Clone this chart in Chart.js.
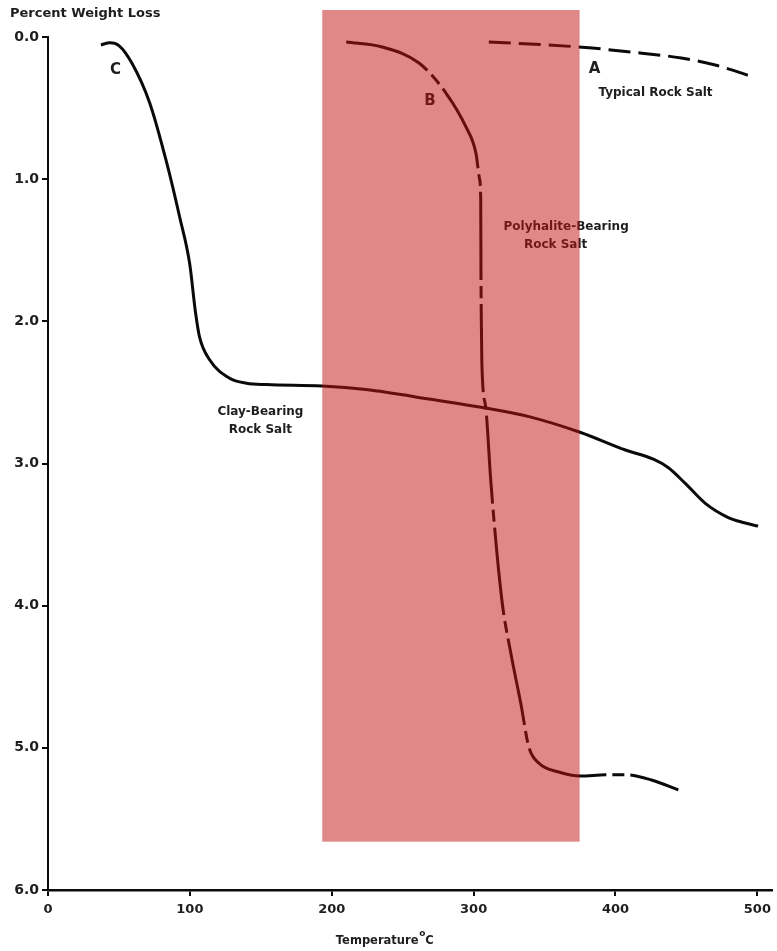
<!DOCTYPE html>
<html>
<head>
<meta charset="utf-8">
<script src="https://cdn.jsdelivr.net/npm/chart.js@4/dist/chart.umd.min.js"></script>
<style>
  html, body { margin: 0; padding: 0; background: #fff; }
  canvas { display: block; }
</style>
</head>
<body>
<canvas id="tga" width="777" height="951"></canvas>
<script>
// thermogravimetric curves: temperature (C) vs percent weight loss
const rockTemp = [310.7, 374, 411.3, 446.4, 470.3, 494.9];
const rockLoss = [0.035, 0.07, 0.106, 0.148, 0.197, 0.274];

const polyTemp = [210.2, 235.5, 261.5, 280.5, 294.6, 301.6, 304.2, 305.0, 305.2, 305.4, 305.8, 308.6, 312.2, 319.9, 326.2, 333.2, 338.9, 345.9, 360, 375.4, 393, 407, 425.3, 444.3];
const polyLoss = [0.035, 0.07, 0.183, 0.394, 0.633, 0.816, 1.0, 1.147, 1.709, 1.97, 2.293, 2.61, 3.137, 3.96, 4.333, 4.685, 4.994, 5.107, 5.17, 5.198, 5.19, 5.19, 5.226, 5.296];

const clayTemp = [37.3, 43.6, 50, 59.1, 71.7, 83.7, 92.8, 99.8, 104, 106.8, 113.9, 128, 140, 154, 193, 224, 271, 308.6, 339, 375, 407, 426.7, 437.3, 449.2, 463.3, 479.5, 490, 500.5];
const clayLoss = [0.056, 0.04, 0.06, 0.183, 0.464, 0.886, 1.266, 1.59, 1.94, 2.11, 2.27, 2.40, 2.435, 2.445, 2.455, 2.48, 2.55, 2.61, 2.67, 2.78, 2.905, 2.97, 3.03, 3.14, 3.28, 3.38, 3.415, 3.44];

const xTicks = [0, 100, 200, 300, 400, 500];
const yTicks = [0, 1, 2, 3, 4, 5, 6];

// shaded temperature band
const bandTemp = [193.3, 374.7];
const bandLoss = [-0.19, 5.66];

const ink = '#0a0a0a';
const textInk = '#1e1e1e';
const fontFam = '"DejaVu Sans", sans-serif';

const notes = [
  { text: 'C', x: 47.5, y: 0.23, size: 15 },
  { text: 'B', x: 269.3, y: 0.45, size: 15 },
  { text: 'A', x: 385.3, y: 0.225, size: 15 },
  { text: 'Typical Rock Salt', x: 428.2, y: 0.395, size: 12 },
  { text: 'Polyhalite-Bearing', x: 365.2, y: 1.335, size: 12 },
  { text: 'Rock Salt', x: 357.8, y: 1.46, size: 12 },
  { text: 'Clay-Bearing', x: 149.7, y: 2.635, size: 12 },
  { text: 'Rock Salt', x: 149.7, y: 2.76, size: 12 }
];

function pts(xs, ys) {
  return xs.map((t, i) => ({ x: t, y: ys[i] }));
}

const annotate = {
  id: 'annotate',
  afterDatasetsDraw(chart) {
    const { ctx, scales: { x, y } } = chart;
    ctx.save();
    ctx.fillStyle = textInk;
    ctx.textAlign = 'center';
    ctx.textBaseline = 'middle';
    notes.forEach(n => {
      ctx.font = 'bold ' + n.size + 'px ' + fontFam;
      ctx.fillText(n.text, x.getPixelForValue(n.x), y.getPixelForValue(n.y));
    });

    // axis titles
    ctx.font = 'bold 13px ' + fontFam;
    ctx.textAlign = 'left';
    ctx.fillText('Percent Weight Loss', 10, 14);
    ctx.font = 'bold 11.5px ' + fontFam;
    ctx.textAlign = 'center';
    const cx = x.getPixelForValue(232);
    ctx.fillText('Temperature', cx, 941);
    ctx.textAlign = 'left';
    ctx.font = 'bold 9px ' + fontFam;
    ctx.fillText('o', cx + 42, 934);
    ctx.font = 'bold 11.5px ' + fontFam;
    ctx.fillText('C', cx + 48, 941);
    ctx.restore();
  },
  afterDraw(chart) {
    const { ctx, scales: { x, y } } = chart;
    const l = x.getPixelForValue(bandTemp[0]);
    const r = x.getPixelForValue(bandTemp[1]);
    const t = y.getPixelForValue(bandLoss[0]);
    const b = y.getPixelForValue(bandLoss[1]);
    ctx.save();
    ctx.fillStyle = 'rgba(194, 18, 18, 0.5)';
    ctx.fillRect(l, t, r - l, b - t);
    ctx.restore();
  }
};

new Chart(document.getElementById('tga'), {
  type: 'line',
  data: {
    datasets: [
      {
        label: 'Typical Rock Salt',
        data: pts(rockTemp, rockLoss),
        borderColor: ink,
        borderWidth: 3,
        borderDash: [22, 8]
      },
      {
        label: 'Polyhalite-Bearing Rock Salt',
        data: pts(polyTemp, polyLoss),
        borderColor: ink,
        borderWidth: 3,
        borderDash: [88, 6, 12, 6]
      },
      {
        label: 'Clay-Bearing Rock Salt',
        data: pts(clayTemp, clayLoss),
        borderColor: ink,
        borderWidth: 3
      }
    ]
  },
  options: {
    responsive: false,
    animation: false,
    events: [],
    layout: { padding: { top: 37, right: 3, left: 0, bottom: 0 } },
    elements: {
      point: { radius: 0 },
      line: { cubicInterpolationMode: 'monotone' }
    },
    plugins: {
      legend: { display: false },
      tooltip: { enabled: false }
    },
    scales: {
      x: {
        type: 'linear',
        min: 0,
        max: 510,
        afterBuildTicks: s => { s.ticks = xTicks.map(v => ({ value: v })); },
        afterFit: s => { s.height = 61; },
        border: { display: true, color: ink, width: 2.5 },
        grid: { drawOnChartArea: false, drawTicks: true, tickLength: 6, color: ink, lineWidth: 2 },
        ticks: {
          color: textInk,
          padding: 6,
          font: { family: fontFam, size: 13, weight: 'bold' },
          maxRotation: 0
        }
      },
      y: {
        type: 'linear',
        reverse: true,
        min: 0,
        max: 6,
        afterBuildTicks: s => { s.ticks = yTicks.map(v => ({ value: v })); },
        afterFit: s => { s.width = 48; },
        border: { display: true, color: ink, width: 2 },
        grid: { drawOnChartArea: false, drawTicks: true, tickLength: 6, color: ink, lineWidth: 2 },
        ticks: {
          color: textInk,
          padding: 3,
          font: { family: fontFam, size: 14, weight: 'bold' },
          callback: v => v.toFixed(1)
        }
      }
    }
  },
  plugins: [annotate]
});
</script>
</body>
</html>
